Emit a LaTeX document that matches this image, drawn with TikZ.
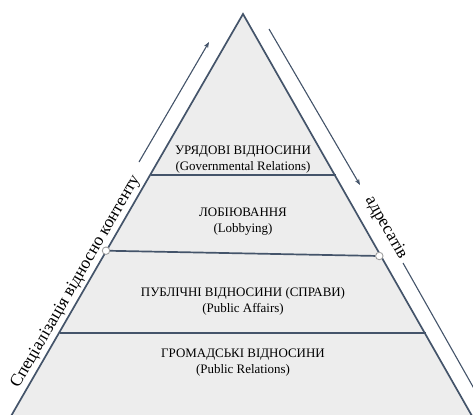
\documentclass[tikz,border=0pt]{standalone}
\usepackage{fontspec}
\setmainfont{Liberation Serif}
\usetikzlibrary{arrows.meta}
\definecolor{edgeblue}{HTML}{44546A}
\definecolor{layergray}{HTML}{EDEDED}

\begin{document}
\begin{tikzpicture}
      [x=1bp, y=-1bp,
      edge/.style={draw=edgeblue, line width=1.7bp},
      side/.style={draw=edgeblue, line width=1.1bp},
      layer/.style={align=center, inner sep=0pt, font=\fontsize{13}{16}\selectfont},
      sidetext/.style={inner sep=0pt, font=\fontsize{17.5}{17.5}\selectfont},
      joint/.style={circle, draw=gray!75, fill=white, line width=0.9bp,
        minimum size=7.5bp, inner sep=0pt},
      ]
      \useasboundingbox (0,0) rectangle (473,414);
      \clip (0,0) rectangle (473,414);
      % pyramid
      \coordinate (top) at (243,14);
      \coordinate (botleft) at (3,430);
      \coordinate (botright) at (480,430);
      \fill[layergray] (top) -- (botright) -- (botleft) -- cycle;
      \draw[edge] (botleft) -- (top) -- (botright);
      % layer borders
      \coordinate (l1) at (150.5,175);
      \coordinate (r1) at (335.5,175);
      \coordinate (l3) at (59.5,333);
      \coordinate (r3) at (425.5,333);
      \draw[edge] (l1) -- (r1);
      \draw[edge] (l3) -- (r3);
      \node[joint] (jl) at (106,250.7) {};
      \node[joint] (jr) at (379.3,256) {};
      \draw[edge] (jl) -- (jr);
      % layer labels
      \node[layer] (gov) at (243,160) {УРЯДОВІ ВІДНОСИНИ\\(Governmental Relations)};
      \node[layer] (lob) at (243,222) {ЛОБІЮВАННЯ\\(Lobbying)};
      \node[layer] (paf) at (243,301) {ПУБЛІЧНІ ВІДНОСИНИ (СПРАВИ)\\(Public Affairs)};
      \node[layer] (pr) at (243,363) {ГРОМАДСЬКІ ВІДНОСИНИ\\(Public Relations)};
      % side arrows
      \coordinate (la0) at (139,162);
      \coordinate (la1) at (209,42);
      \coordinate (ra0) at (269,29);
      \coordinate (ra1) at (360,185);
      \coordinate (rl0) at (403,263);
      \coordinate (rl1) at (485,408);
      \draw[side, -{Stealth[length=6bp, width=4.5bp]}] (la0) -- (la1);
      \draw[side, -{Stealth[length=6bp, width=4.5bp]}] (ra0) -- (ra1);
      \draw[side] (rl0) -- (rl1);
      % side texts
      \node[sidetext, rotate=60] (spec) at (76,282) {Спеціалізація відносно контенту};
      \node[sidetext, rotate=-60.4] (adr) at (386,228) {адресатів};
\end{tikzpicture}
\end{document}
